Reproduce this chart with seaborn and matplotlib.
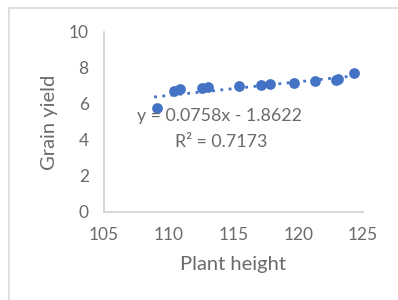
import matplotlib
matplotlib.use("Agg")
import matplotlib.pyplot as plt
import seaborn as sns
import numpy as np
import pandas as pd
from matplotlib.lines import Line2D

plant_height = [109.07, 110.4, 110.9, 112.6, 113.0, 115.4, 117.1, 117.8, 119.7, 121.3, 122.9, 123.1, 124.3]
grain_yield = [5.76, 6.72, 6.83, 6.90, 6.94, 7.00, 7.06, 7.11, 7.18, 7.29, 7.33, 7.41, 7.74]
slope, intercept = 0.0758, -1.8622
eq_text = "y = 0.0758x - 1.8622"
r2_text = "R² = 0.7173"
x_ticks = [105, 110, 115, 120, 125]
y_ticks = [0, 2, 4, 6, 8, 10]

df = pd.DataFrame({"Plant height": plant_height, "Grain yield": grain_yield})

sns.set_style("white")
plt.rcParams['font.family'] = ['Lato', 'DejaVu Sans']
plt.rcParams['font.weight'] = 'normal'

fig = plt.figure(figsize=(3.98, 3.0), dpi=100)
ax = fig.add_axes([104/398, 1 - 212/300, (363-104)/398, (212-32)/300])

blue = "#4472C4"
gray_text = "#6a6a6a"
sns.scatterplot(data=df, x="Plant height", y="Grain yield", ax=ax, color=blue,
                s=60, edgecolor=blue, linewidth=0, zorder=3)

xs = np.array([min(plant_height) - 0.2, max(plant_height)])
ax.plot(xs, slope * xs + intercept, linestyle=(0, (1, 2)), color=blue, linewidth=2, zorder=2)

ax.set_xlim(105, 125)
ax.set_ylim(0, 10)
ax.set_xticks(x_ticks)
ax.set_yticks(y_ticks)
ax.tick_params(axis='x', length=0, labelsize=12.5, colors=gray_text, pad=11)
ax.tick_params(axis='y', length=0, labelsize=12.5, colors=gray_text, pad=11)
for s in ["top", "right"]:
    ax.spines[s].set_visible(False)
for s in ["left", "bottom"]:
    ax.spines[s].set_color("#d0d0d0")
    ax.spines[s].set_linewidth(1.2)

ax.set_xlabel("Plant height", fontsize=14.5, color=gray_text, labelpad=9)
ax.set_ylabel("Grain yield", fontsize=14.5, color=gray_text, labelpad=8)

ax.text(220/398, 1 - 116/300, eq_text, transform=fig.transFigure, ha="center", va="center",
        fontsize=12.8, color=gray_text)
ax.text(221/398, 1 - 142/300, r2_text, transform=fig.transFigure, ha="center", va="center",
        fontsize=12.8, color=gray_text)

fig.add_artist(Line2D([8.5/398, 8.5/398], [0, 1 - 7.5/300], transform=fig.transFigure, color="#d9d9d9", linewidth=1.2))
fig.add_artist(Line2D([8.5/398, 1], [1 - 7.5/300, 1 - 7.5/300], transform=fig.transFigure, color="#d9d9d9", linewidth=1.2))

fig.savefig("out.png", dpi=100)
